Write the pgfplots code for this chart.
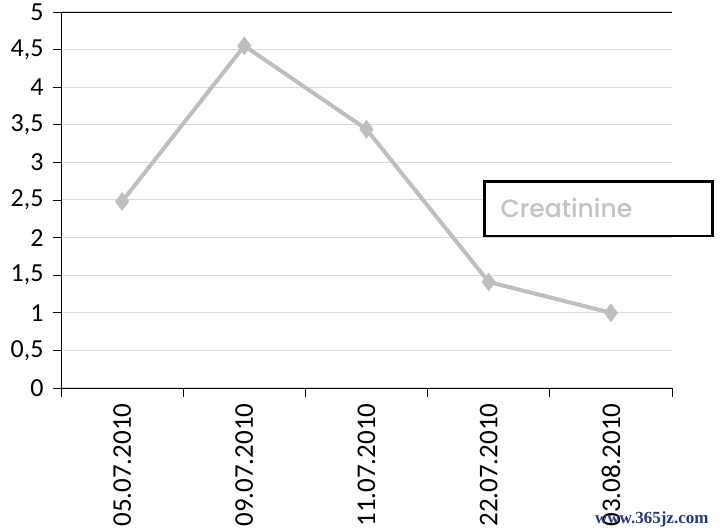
\documentclass[border=0pt]{standalone}
\usepackage{fontspec}
\setmainfont{Carlito}
\newfontfamily\legfont{Poppins Medium}
\newfontfamily\wmfont{Liberation Serif}
\usepackage{pgfplots}
\pgfplotsset{compat=1.18}
\definecolor{linegray}{RGB}{190,190,190}
\definecolor{gridgray}{RGB}{217,217,217}
\definecolor{legtext}{RGB}{195,195,195}
\definecolor{wmblue}{RGB}{35,55,130}
\begin{document}
\begin{tikzpicture}
\useasboundingbox (0,0) rectangle (720pt,532pt);
\begin{axis}[
  at={(61pt,144pt)}, anchor=south west,
  scale only axis, width=611pt, height=376pt,
  xmin=-0.5, xmax=4.5, ymin=0, ymax=5,
  axis lines*=left,
  axis line style={black, line width=0.8pt},
  xtick={0,1,2,3,4},
  xticklabels={05.07.2010,09.07.2010,11.07.2010,22.07.2010,03.08.2010},
  major x tick style={draw=none},
  minor xtick={-0.5,0.5,1.5,2.5,3.5,4.5},
  minor tick length=9pt,
  major tick length=8pt,
  tick align=outside,
  tick style={black, line width=0.8pt},
  ytick={0,0.5,...,5},
  ymajorgrids,
  major grid style={gridgray, line width=1pt},
  /pgf/number format/use comma,
  /pgf/number format/assume math mode=true,
  yticklabel style={font=\fontsize{26}{30}\selectfont, xshift=-6pt},
  xticklabel style={font=\fontsize{27}{30}\selectfont, rotate=90, anchor=east, xshift=-4pt},
  legend style={at={(0.691,0.553)}, anchor=north west, draw=black, line width=2.6pt,
    inner xsep=4pt, inner ysep=15pt, font=\legfont\fontsize{25}{28}\selectfont, text=legtext},
  legend image code/.code={},
]
\addplot[linegray, line width=4pt, mark=diamond*, mark size=9pt, mark options={fill=linegray, draw=linegray, line width=0.5pt}]
  coordinates {(0,2.48) (1,4.55) (2,3.44) (3,1.41) (4,1.0)};
\addlegendentry{\makebox[216pt][l]{\hspace{10pt}Creatinine}}
\draw[black, line width=0.8pt] (axis cs:-0.5,5) -- (axis cs:4.5,5);
\end{axis}
\node[anchor=east, text=wmblue, font=\wmfont\bfseries\fontsize{17}{20}\selectfont] at (712pt,13pt) {www.365jz.com};
\end{tikzpicture}
\end{document}
